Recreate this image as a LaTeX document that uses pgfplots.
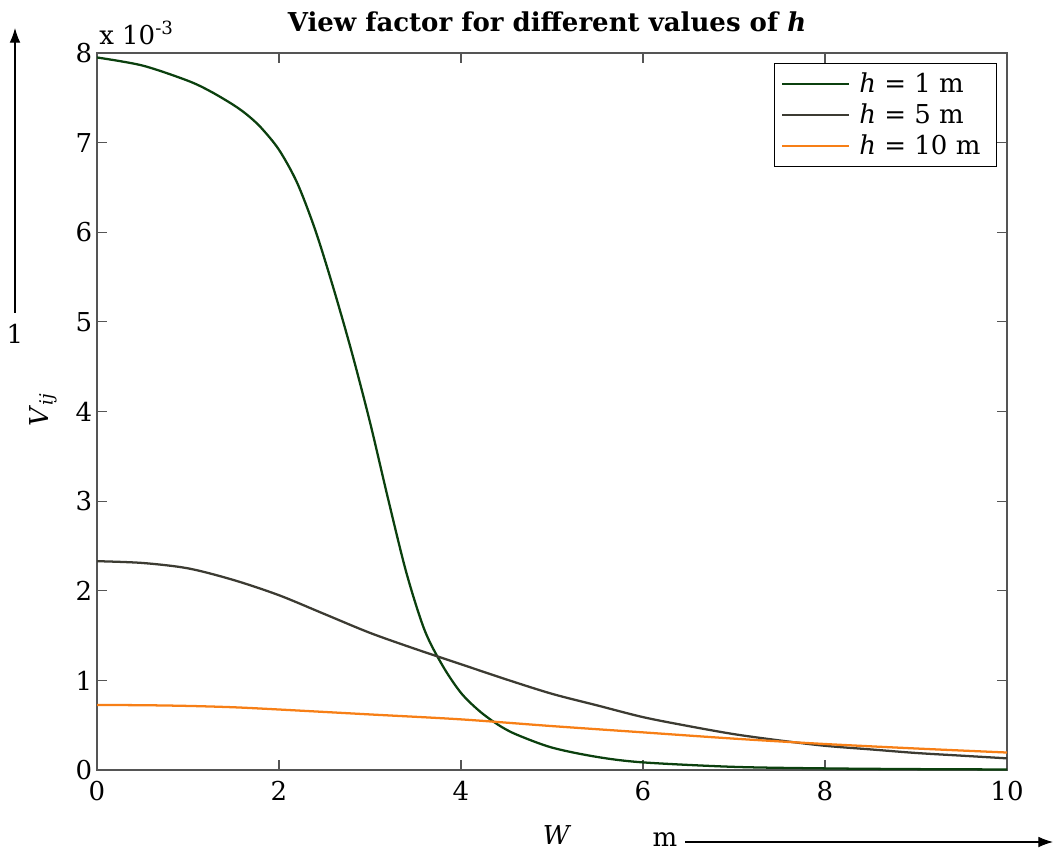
\documentclass[border=0pt]{standalone}
\usepackage{fontspec}
\setmainfont{DejaVu Serif}
\usepackage{pgfplots}
\pgfplotsset{compat=1.18}
\usetikzlibrary{arrows.meta}
\definecolor{hone}{HTML}{0B400E}
\definecolor{hfive}{HTML}{3C3B32}
\definecolor{hten}{HTML}{F77F16}
\definecolor{axgray}{HTML}{555555}
\newcommand{\fs}{\fontsize{19.5}{23}\selectfont}

\begin{document}
\begin{tikzpicture}
\begin{axis}[at={(0,0)},anchor=south west,scale only axis,
  width=682.5pt,height=537.75pt,
  xmin=0,xmax=10,ymin=0,ymax=8,
  xtick={0,2,...,10},ytick={0,1,...,8},
  tick align=inside,major tick length=7.5pt,
  axis line style={axgray,line width=0.9pt},
  every tick/.style={axgray,line width=0.9pt},
  /pgf/number format/assume math mode=true,
  ticklabel style={font=\fs,black},
  xticklabel style={yshift=-5pt},
  legend style={at={(0.989,0.986)},anchor=north east,draw=black,line width=0.8pt,
    font=\fs,row sep=3pt,inner xsep=5pt,inner ysep=5pt,
    nodes={inner xsep=7pt}},
  legend cell align=left,
  legend image code/.code={\draw[#1] (0pt,0pt) -- (50pt,0pt);},
  every axis plot/.append style={line width=1.7pt,smooth,tension=0.5}]
\addplot[hone] coordinates {(0,7.95) (0.5,7.86) (1.0,7.69) (1.25,7.57) (1.5,7.42) (1.65,7.31) (1.8,7.17) (2.0,6.92) (2.2,6.55) (2.4,6.02) (2.6,5.37) (2.8,4.66) (3.0,3.88) (3.2,3.02) (3.4,2.20) (3.6,1.56) (3.8,1.16) (4.0,0.86) (4.2,0.66) (4.4,0.51) (4.6,0.40) (5.0,0.25) (5.5,0.145) (6.0,0.085) (7.0,0.035) (8.0,0.018) (9.0,0.010) (10,0.006)};
\addlegendentry{\textit{h} = 1 m}
\addplot[hfive] coordinates {(0,2.33) (0.5,2.31) (1.0,2.25) (1.5,2.12) (2.0,1.95) (2.5,1.74) (3.0,1.53) (3.5,1.35) (4.0,1.18) (4.5,1.01) (5.0,0.85) (5.5,0.72) (6.0,0.59) (6.5,0.49) (7.0,0.40) (7.5,0.33) (8.0,0.27) (8.5,0.23) (9.0,0.19) (9.5,0.16) (10,0.13)};
\addlegendentry{\textit{h} = 5 m}
\addplot[hten] coordinates {(0,0.725) (0.5,0.723) (1.0,0.715) (1.5,0.70) (2.0,0.675) (3.0,0.62) (4.0,0.565) (5.0,0.49) (6.0,0.42) (7.0,0.35) (8.0,0.29) (9.0,0.24) (10,0.195)};
\addlegendentry{\textit{h} = 10 m}
\end{axis}
\begin{scope}[x=0.75pt,y=-0.75pt,shift={(-97,-770)}]
\path[use as bounding box] (0,0) rectangle (1055,853);
\node[font=\bfseries\fs] at (547,22) {View factor for different values of \textit{h}};
\node[anchor=base west,font=\fs,inner sep=0pt] at (99,45) {x 10\textsuperscript{-3}};
\node[rotate=90,font=\fs] at (43,410) {\textit{V}\textsubscript{\textit{ij}}};
\node[font=\fs] at (557,835) {\textit{W}};
\node[anchor=base,font=\fs,inner sep=0pt] at (665,846) {m};
\draw[line width=0.8pt,-{Latex[length=11pt,width=8pt]}] (685,842) -- (1053,842);
\draw[line width=0.8pt,-{Latex[length=11pt,width=8pt]}] (15,313) -- (15,28);
\node[font=\fs] at (15,334) {1};
\end{scope}
\end{tikzpicture}
\end{document}
